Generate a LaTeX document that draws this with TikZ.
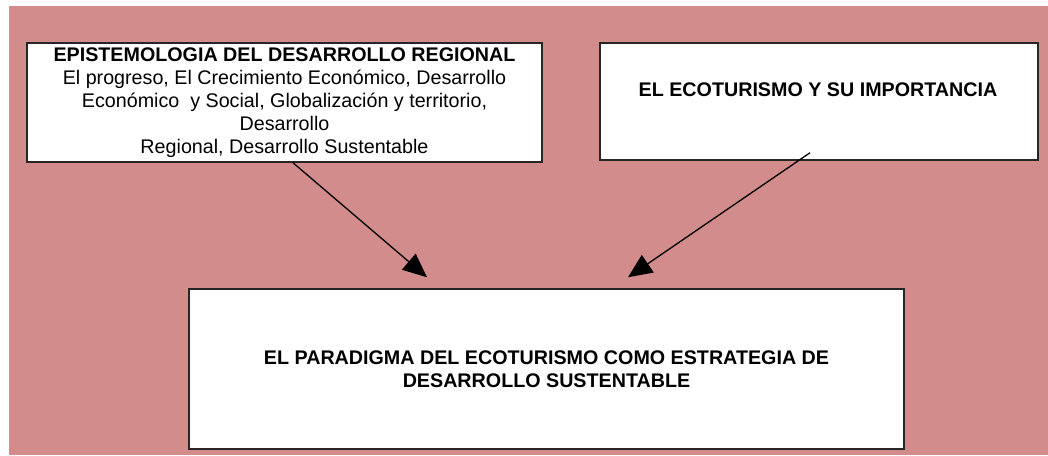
\documentclass[tikz,border=0pt]{standalone}
\usepackage{xcolor}
\usepackage{fontspec}
\setmainfont{Liberation Sans}
\usepackage{tikz}
\usetikzlibrary{arrows.meta}
\definecolor{fondo}{RGB}{211,140,140}
\tikzset{caja/.style={draw=black!85, line width=1.5pt, fill=white, inner sep=0pt, align=center, font=\fontsize{19.7}{23}\selectfont}}
\tikzset{flecha/.style={-{Triangle[length=24pt,width=21pt]}, line width=1.3pt}}

\begin{document}
\begin{tikzpicture}[x=1pt,y=-1pt]
    \useasboundingbox (0,0) rectangle (1048,455);
    \fill[fondo] (9,6) rectangle (1048,455);

    \node[caja, minimum width=515pt, minimum height=119pt] at (284.5,102.5) (epi){\textbf{EPISTEMOLOGIA DEL DESARROLLO REGIONAL}\\El progreso, El Crecimiento Económico, Desarrollo\\Económico\ \ y Social, Globalización y territorio,\\Desarrollo\\Regional, Desarrollo Sustentable};
    \node[caja, minimum width=438pt, minimum height=117pt] at (819,101.5) (eco){};
    \node[font=\fontsize{19.7}{23}\selectfont\bfseries] at (818,90) (ecotxt){EL ECOTURISMO Y SU IMPORTANCIA};

    \node[caja, minimum width=715pt, minimum height=160pt] at (546.5,369) (par){\textbf{EL PARADIGMA DEL ECOTURISMO COMO ESTRATEGIA DE}\\\textbf{DESARROLLO SUSTENTABLE}};

    \draw [flecha] ([xshift = 8.5pt]epi.south) -- ([xshift = -119.5pt, yshift = 11pt]par.north);
    \draw [flecha] ([xshift = -9pt, yshift = 8pt]eco.south) -- ([xshift = 81.5pt, yshift = 11pt]par.north);
\end{tikzpicture}
\end{document}
